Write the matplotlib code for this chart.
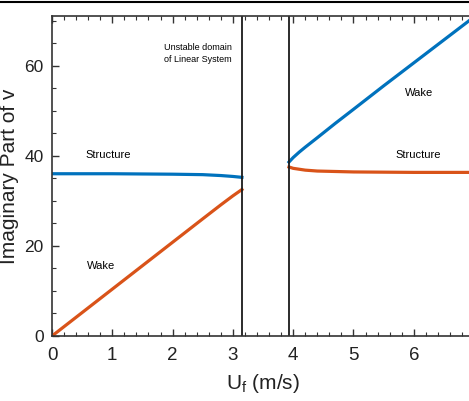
import numpy as np
import matplotlib
matplotlib.use('Agg')
from matplotlib import pyplot as plt
from matplotlib.lines import Line2D
from matplotlib.ticker import MultipleLocator, FixedLocator

plt.rcParams['font.family'] = ['Liberation Sans', 'DejaVu Sans']

# stable branch below the unstable domain
u_low = [0.0, 0.5, 1.0, 1.5, 2.0, 2.5, 2.8, 3.0, 3.15]
struct_low = [36.0, 36.0, 36.0, 35.95, 35.9, 35.8, 35.6, 35.4, 35.2]
wake_low = [0.0, 5.2, 10.4, 15.6, 20.8, 26.0, 29.1, 31.1, 32.5]

# stable branch above the unstable domain
u_high = [3.93, 4.0, 4.1, 4.2, 4.4, 4.7, 5.0, 5.5, 6.0, 6.5, 7.0]
wake_high = [38.6, 39.6, 40.8, 41.9, 44.0, 47.2, 50.3, 55.5, 60.6, 65.7, 70.8]
struct_high = [37.5, 37.2, 37.0, 36.8, 36.6, 36.5, 36.4, 36.35, 36.3, 36.3, 36.3]

unstable = [3.15, 3.93]
xticks = [0, 1, 2, 3, 4, 5, 6]

blue = '#0072BD'
orange = '#D95319'

fig = plt.figure(figsize=(4.69, 4.01), dpi=100)
ax = fig.add_axes([52 / 469, 1 - 336 / 401, (7.0 * 60.3) / 469, 320 / 401])

ax.plot(u_low, struct_low, color=blue, lw=2.3)
ax.plot(u_high, wake_high, color=blue, lw=2.3)
ax.plot(u_low, wake_low, color=orange, lw=2.3)
ax.plot(u_high, struct_high, color=orange, lw=2.3)
for x in unstable:
    ax.axvline(x, color='#1a1a1a', lw=1.3)

ax.set_xlim(0, 7)
ax.set_ylim(0, 71)
ax.xaxis.set_major_locator(FixedLocator(xticks))
ax.xaxis.set_minor_locator(MultipleLocator(0.2))
ax.yaxis.set_major_locator(MultipleLocator(20))
ax.yaxis.set_minor_locator(MultipleLocator(5))
ax.tick_params(which='both', direction='in', top=True, color='#333333', labelcolor='#222222')
ax.tick_params(axis='x', which='major', length=5, width=1, labelsize=13.5, pad=8)
ax.tick_params(axis='y', which='major', length=5, width=1, labelsize=12.5, pad=6)
ax.tick_params(which='minor', length=3, width=0.8)
for s in ax.spines.values():
    s.set_linewidth(1.2)
    s.set_color('#333333')

ax.set_xlabel('U$_\\mathregular{f}$ (m/s)', fontsize=15, color='#222222', labelpad=6)
ax.set_ylabel('Imaginary Part of v', fontsize=15, color='#222222', va='center')
ax.yaxis.set_label_coords(-0.1, 0.5)

ax.text(0.56, 40.2, 'Structure', fontsize=8, va='center')
ax.text(0.58, 15.6, 'Wake', fontsize=8, va='center')
ax.text(5.85, 54.0, 'Wake', fontsize=8, va='center')
ax.text(5.70, 40.2, 'Structure', fontsize=8, va='center')
ax.text(2.42, 62.7, 'Unstable domain\nof Linear System', fontsize=6.5, ha='center', va='center', linespacing=1.5)

fig.add_artist(Line2D([0, 1], [1 - 2 / 401, 1 - 2 / 401], color='black', lw=1.5))

fig.savefig('out.png', dpi=100)
